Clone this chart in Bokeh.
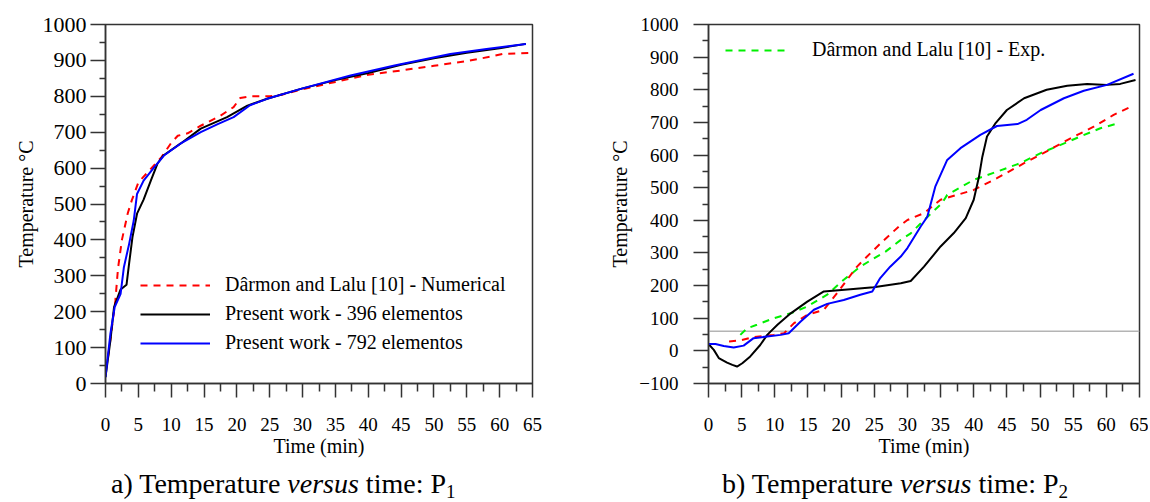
from bokeh.plotting import figure
from bokeh.models import Range1d, FixedTicker, Legend, LegendItem, Span, Div
from bokeh.layouts import column, row
from bokeh.embed import file_html
from bokeh.resources import INLINE

FONT = "Liberation Serif"
FONT_AX = "'Liberation Serif'"

# ---------------- data: panel a) P1 ----------------
a_num_t = [0, 0.4, 1.5, 1.9, 2.5, 3.4, 4, 5, 7, 8.5, 10, 11, 12.5, 14.5, 17.5, 19.5, 20.5,
           22, 25, 27, 30, 35, 40, 45, 50, 55, 58.5, 60.5, 65]
a_num_T = [40, 75, 230, 320, 400, 475, 510, 560, 600, 630, 670, 690, 697, 718, 746, 770, 795,
           800, 800, 805, 820, 840, 860, 872, 885, 898, 910, 918, 921]

a_396_t = [0, 0.75, 1.3, 2.3, 3.2, 3.6, 4.1, 4.8, 5.8, 6.9, 7.9, 8.8, 11.4, 14.5, 18.5, 21.6,
           24.6, 30, 35, 40, 45, 50, 55, 60, 64]
a_396_T = [18, 120, 213, 262, 275, 335, 407, 473, 512, 565, 612, 635, 668, 710, 742, 774,
           793, 822, 845, 865, 888, 906, 921, 934, 946]

a_792_t = [0, 0.75, 1.4, 2.3, 2.8, 3.6, 4.3, 4.8, 5.8, 7.4, 8.9, 11.4, 14.5, 17, 19.5, 22,
           24.6, 30, 37.3, 44, 52.5, 58, 64]
a_792_T = [18, 139, 213, 250, 324, 389, 454, 528, 565, 602, 635, 668, 700, 722, 742, 775,
           793, 822, 858, 886, 918, 932, 946]

# ---------------- data: panel b) P2 ----------------
b_num_t = [3.1, 4.8, 6.8, 9.85, 11.4, 12.9, 14.9, 17.4, 19.4, 20.9, 22.4, 24.4, 26.4, 28.7,
           30, 32.5, 35, 40, 43.5, 47.6, 51, 54.1, 58.1, 61.1, 63.6]
b_num_T = [29, 32, 42, 49, 54, 85, 110, 126, 177, 218, 258, 299, 338, 381,
           401, 422, 463, 493, 529, 575, 611, 646, 687, 723, 747]

b_exp_t = [4.8, 5.8, 7.3, 9.85, 12.4, 14.9, 17.9, 20.4, 22.9, 25.4, 26.7, 29, 30.5, 32.5,
           35.2, 36, 40, 43.5, 47, 50.1, 53.1, 56.1, 59.1, 62.1]
b_exp_T = [49, 69, 80, 100, 115, 136, 172, 218, 258, 289, 304, 340, 360, 401,
           452, 478, 524, 549, 575, 606, 631, 657, 682, 699]

b_396_t = [0, 0.8, 1.55, 2.8, 3.6, 4.3, 5.1, 6.3, 7.8, 8.85, 10.4, 12.4, 14.9, 17.4, 21.4,
           24.9, 29, 30.5, 32.5, 35, 37, 38.8, 40, 40.8, 41.3, 42, 43.3, 45, 47.6, 51,
           54.1, 57.1, 60.1, 62.1, 64.4]
b_396_T = [21, 3, -22, -36, -43, -48, -38, -17, 18, 49, 80, 115, 151, 182, 189,
           195, 207, 214, 258, 320, 361, 407, 463, 534, 595, 657, 698, 738, 774, 800,
           812, 818, 815, 818, 830]

b_792_t = [0, 1.05, 2.3, 3.8, 5.3, 6.8, 8.85, 10.9, 12.1, 13.9, 15.9, 17.9, 20.4, 22.9,
           24.7, 25.9, 27.4, 29, 30, 32, 33, 34.2, 36, 38, 41, 43.5, 46.6, 48, 50.1,
           53.6, 56.6, 60.1, 64.1]
b_792_T = [21, 21, 15, 10, 16, 39, 44, 49, 54, 90, 126, 144, 156, 172,
           182, 223, 258, 289, 315, 381, 411, 503, 585, 621, 662, 689, 695, 708, 738,
           774, 797, 815, 849]

ref_temp = 60

x_ticks = list(range(0, 66, 5))
x_minor = [2.5 + 5 * k for k in range(13)]

legend_a = ["Dârmon and Lalu [10] - Numerical",
            "Present work - 396 elementos",
            "Present work - 792 elementos"]
legend_b = ["Dârmon and Lalu [10] - Exp."]

RED, BLACK, BLUE, GREEN = "#ff0000", "#000000", "#0000ff", "#00f000"
AX = "#333333"


def make_fig(fw, y0, y1, left, right, ylab_size, ylab_standoff, ylabel_standoff):
    p = figure(frame_width=fw, frame_height=359, output_backend="svg", toolbar_location=None,
               x_range=Range1d(0, 65), y_range=Range1d(y0, y1),
               min_border_left=left, min_border_right=right, min_border_top=24,
               min_border_bottom=83)
    p.grid.visible = False
    p.outline_line_color = AX
    p.outline_line_width = 1.5
    p.background_fill_color = "white"
    p.border_fill_color = "white"

    p.xaxis.ticker = FixedTicker(ticks=x_ticks, minor_ticks=x_minor)
    p.yaxis.ticker = FixedTicker(ticks=list(range(y0, y1 + 1, 100)),
                                 minor_ticks=list(range(y0 + 50, y1, 100)))
    for ax in (p.xaxis[0], p.yaxis[0]):
        ax.axis_line_color = AX
        ax.axis_line_width = 1.5
        ax.major_tick_line_color = AX
        ax.major_tick_line_width = 1.5
        ax.minor_tick_line_color = AX
        ax.minor_tick_line_width = 1.5
        ax.major_tick_in = 0
        ax.minor_tick_in = 0
        ax.major_label_text_font = FONT_AX
        ax.major_label_text_color = "black"
        ax.axis_label_text_font = FONT_AX
        ax.axis_label_text_font_style = "normal"
        ax.axis_label_text_color = "black"
        ax.axis_label_text_font_size = "20px"
    p.xaxis.major_tick_out = 14
    p.xaxis.minor_tick_out = 8
    p.xaxis.major_label_text_font_size = "19px"
    p.xaxis.major_label_standoff = 20
    p.xaxis.axis_label = "Time (min)"
    p.xaxis.axis_label_standoff = 1
    p.yaxis.major_tick_out = 15
    p.yaxis.minor_tick_out = 6
    p.yaxis.major_label_text_font_size = ylab_size
    p.yaxis.major_label_standoff = ylab_standoff
    p.yaxis.axis_label = "Temperature °C"
    p.yaxis.axis_label_standoff = ylabel_standoff
    return p


# ---------------- panel a ----------------
p1 = make_fig(427, 0, 1000, 105, 68, "22px", 4, 3)
r1 = p1.line(a_num_t, a_num_T, line_color=RED, line_width=2, line_dash="7 6")
r2 = p1.line(a_396_t, a_396_T, line_color=BLACK, line_width=2)
r3 = p1.line(a_792_t, a_792_T, line_color=BLUE, line_width=2)
leg1 = Legend(items=[LegendItem(label=legend_a[0], renderers=[r1]),
                     LegendItem(label=legend_a[1], renderers=[r2]),
                     LegendItem(label=legend_a[2], renderers=[r3])],
              location=(35, 29), padding=0, margin=0, spacing=6,
              glyph_width=70, glyph_height=20, label_height=20, label_standoff=15,
              label_text_font=FONT, label_text_font_size="20px", label_text_color="black",
              border_line_alpha=0, background_fill_alpha=0)
p1.add_layout(leg1)

# ---------------- panel b ----------------
p2 = make_fig(431, -100, 1000, 108, 9, "19px", 15, 5)
p2.add_layout(Span(location=ref_temp, dimension="width", line_color="#b4b4b4",
                   line_width=1.5, level="underlay"))
s1 = p2.line(b_exp_t, b_exp_T, line_color=GREEN, line_width=2, line_dash="7 6")
p2.line(b_num_t, b_num_T, line_color=RED, line_width=2, line_dash="7 6")
p2.line(b_396_t, b_396_T, line_color=BLACK, line_width=2)
p2.line(b_792_t, b_792_T, line_color=BLUE, line_width=2)
leg2 = Legend(items=[LegendItem(label=legend_b[0], renderers=[s1])],
              location=(17, 322), padding=0, margin=0,
              glyph_width=65, glyph_height=20, label_height=20, label_standoff=22,
              label_text_font=FONT, label_text_font_size="20px", label_text_color="black",
              border_line_alpha=0, background_fill_alpha=0)
p2.add_layout(leg2)

# ---------------- captions ----------------
CAP = ("<div style=\"font-family:'Liberation Serif';font-size:28px;line-height:28px;"
       "padding-left:{pad}px;padding-top:4px;white-space:nowrap;color:black\">"
       "{lab}) Temperature <i>versus</i> time: P<span style=\"font-size:19px;position:relative;"
       "top:5px;line-height:0\">{n}</span></div>")
d1 = Div(text=CAP.format(pad=111, lab="a", n="1"), width=600, height=34, margin=0)
d2 = Div(text=CAP.format(pad=122, lab="b", n="2"), width=548, height=34, margin=0)

layout = column(row(p1, p2, spacing=0), row(d1, d2, spacing=0), spacing=0)

open("out.html", "w").write(file_html(layout, INLINE))
